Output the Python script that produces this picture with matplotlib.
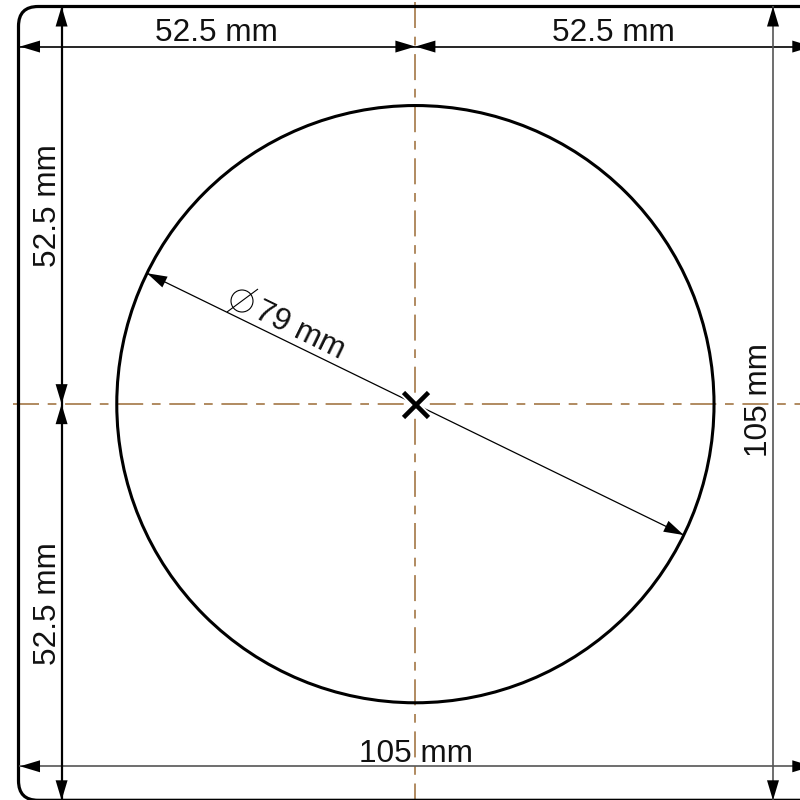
import numpy as np
import matplotlib
matplotlib.use('Agg')
import matplotlib.pyplot as plt
from matplotlib.patches import Circle, FancyBboxPatch
import matplotlib.patheffects as pe

plt.rcParams['font.family'] = ['Liberation Sans', 'DejaVu Sans']

# plate dimensions in mm
plate_size = 105
half_size = 52.5
hole_diameter = 79
corner_radius = 2.6
dim_angle = 26
dim_offset = 5.3

labels_half = '52.5 mm'
label_full = '105 mm'
label_hole = '79 mm'

px = 7.56  # pixels per mm
black = '#000000'
brown = '#b08a60'
text_col = '#111111'

fig = plt.figure(figsize=(8, 8), dpi=100)
ax = fig.add_axes([0, 0, 1, 1])
ax.set_xlim(-18.5 / px, (800 - 18.5) / px)
ax.set_ylim(105 - 793.5 / px, 105 + 6.5 / px)
ax.axis('off')


def dim_line(x0, y0, x1, y1, lw=1.2, color=black):
    ax.plot([x0, x1], [y0, y1], color=color, lw=lw, solid_capstyle='butt', zorder=3)


def arrow(tx, ty, dx, dy):
    # triangle with its tip at tx,ty pointing along dx,dy
    ln, w = 20 / px, 6 / px
    bx, by = tx - dx * ln, ty - dy * ln
    ax.fill([tx, bx - dy * w, bx + dy * w], [ty, by + dx * w, by - dx * w],
            color=black, lw=0, zorder=4)


# center lines
cx, cy = half_size, half_size - 0.1
cl_w = 1.4
dash = [v * 0.72 / cl_w for v in (26, 8.7, 8.7, 8.7)]
ax.plot([-0.7, plate_size + 1], [cy, cy], color=brown, lw=cl_w, dashes=dash, zorder=1)
ax.plot([cx, cx], [105.6, -1], color=brown, lw=cl_w, dashes=dash, zorder=1)

# plate outline, its right side runs past the picture
ax.add_patch(FancyBboxPatch((corner_radius, corner_radius),
                            plate_size + 1.5 - 2 * corner_radius, plate_size - 2 * corner_radius,
                            boxstyle='round,pad=%g,rounding_size=%g' % (corner_radius, corner_radius),
                            fill=False, ec=black, lw=2.3, zorder=2))

# hole
ax.add_patch(Circle((cx, cy), hole_diameter / 2, fill=False, ec=black, lw=2.2, zorder=2))

# horizontal dimensions
top = plate_size - dim_offset
bottom = dim_offset - 0.8
dim_line(0, top, plate_size, top)
dim_line(0, bottom, plate_size, bottom, color='#555555')
arrow(0.2, top, -1, 0)
arrow(cx, top, 1, 0)
arrow(cx, top, -1, 0)
arrow(plate_size, top, 1, 0)
arrow(0.2, bottom, -1, 0)
arrow(plate_size, bottom, 1, 0)

# vertical dimensions
left = dim_offset + 0.4
right = plate_size - dim_offset + 0.1
dim_line(left, 0, left, plate_size, lw=1.6)
dim_line(right, 0, right, plate_size, color='#555555')
arrow(left, plate_size, 0, 1)
arrow(left, cy, 0, 1)
arrow(left, cy, 0, -1)
arrow(left, 0, 0, -1)
arrow(right, plate_size, 0, 1)
arrow(right, 0, 0, -1)

# diameter line
a = np.radians(dim_angle)
r = hole_diameter / 2
ex, ey = np.cos(a), np.sin(a)
dim_line(cx - r * ex, cy + r * ey, cx + r * ex, cy - r * ey, lw=0.9)
arrow(cx - r * ex, cy + r * ey, -ex, ey)
arrow(cx + r * ex, cy - r * ey, ex, -ey)

# center cross
ax.plot([cx], [cy], marker='x', ms=18, mew=3.3, color=black, zorder=5, snap=False,
        path_effects=[pe.withStroke(linewidth=6, foreground='white')])

# phi sign next to the hole label
px0, py0 = (242 - 18.5) / px, 105 - (301 - 6.5) / px
ax.add_patch(Circle((px0, py0), 11 / px, fill=False, ec=black, lw=0.8, zorder=3))
dim_line((227 - 18.5) / px, 105 - (312 - 6.5) / px, (258 - 18.5) / px, 105 - (289 - 6.5) / px, lw=0.8)

fs = 22.7
ax.text(26.2, 101.55, labels_half, fontsize=fs, ha='center', va='center', color=text_col, zorder=6)
ax.text(78.7, 101.55, labels_half, fontsize=fs, ha='center', va='center', color=text_col, zorder=6)
ax.text(3.95, 78.7, labels_half, fontsize=fs, rotation=90, ha='center', va='center', color=text_col, zorder=6)
ax.text(3.95, 26.0, labels_half, fontsize=fs, rotation=90, ha='center', va='center', color=text_col, zorder=6)
ax.text(52.6, 6.1, label_full, fontsize=fs, ha='center', va='center', color=text_col, zorder=6)
ax.text(98.0, 52.9, label_full, fontsize=fs, rotation=90, ha='center', va='center', color=text_col, zorder=6)
ax.text(37.15, 62.15, label_hole, fontsize=fs, rotation=-dim_angle,
        ha='center', va='center', rotation_mode='anchor', color=text_col, zorder=6)

fig.savefig('out.png', dpi=100)
